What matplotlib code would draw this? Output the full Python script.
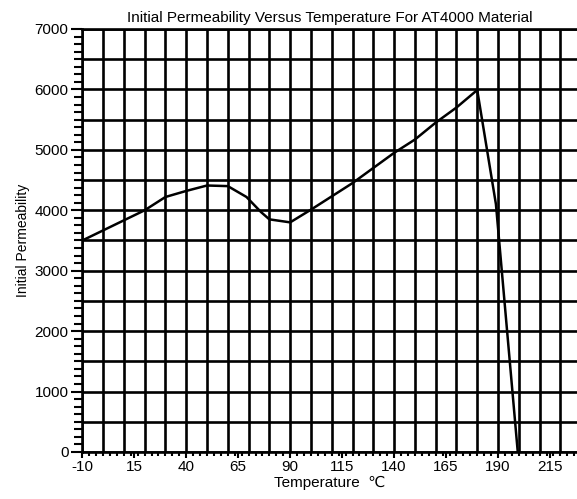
import matplotlib
matplotlib.use("Agg")
import matplotlib.pyplot as plt
from matplotlib.ticker import MultipleLocator
import numpy as np

plt.rcParams['font.family'] = ['Liberation Sans', 'DejaVu Sans']

# values
temp = [-10, 20, 30, 40, 50, 60, 69, 76, 80, 90, 100, 120, 130, 140, 150, 160, 170, 180, 189, 199.5]
perm = [3500, 4000, 4220, 4320, 4410, 4400, 4220, 3970, 3850, 3800, 4010, 4450, 4700, 4950, 5170, 5450, 5700, 5990, 4100, 0]

x_labels = [-10, 15, 40, 65, 90, 115, 140, 165, 190, 215]
y_labels = [0, 1000, 2000, 3000, 4000, 5000, 6000, 7000]

fig = plt.figure(figsize=(5.77, 4.99), dpi=100)
ax = fig.add_axes([0.1426, 0.0942, 0.8574, 0.8477])

# grid every 10 degC / 500
for gx in np.arange(-10, 230, 10):
    ax.axvline(gx, color='black', lw=1.9, zorder=1)
for gy in np.arange(0, 7001, 500):
    ax.axhline(gy, color='black', lw=1.9, zorder=1)

ax.plot(temp, perm, color='black', lw=1.8, zorder=3, solid_joinstyle='round')

ax.set_xlim(-10, 228)
ax.set_ylim(0, 7000)
ax.set_xticks(x_labels)
ax.set_xticklabels([str(v) for v in x_labels])
ax.set_yticks(y_labels)
ax.xaxis.set_minor_locator(MultipleLocator(10 / 3))
ax.yaxis.set_minor_locator(MultipleLocator(125))
ax.tick_params(which='major', direction='out', length=4, width=1.5, labelsize=11, pad=2)
ax.tick_params(which='minor', direction='out', length=3, width=1.5)
ax.tick_params(axis='y', which='major', length=8)
ax.tick_params(axis='y', which='minor', length=6)

for s in ['right']:
    ax.spines[s].set_visible(False)
for s in ['left', 'bottom', 'top']:
    ax.spines[s].set_linewidth(1.9)

ax.set_title('Initial Permeability Versus Temperature For AT4000 Material', fontsize=11, pad=5)
ax.set_xlabel('Temperature  \u2103', fontsize=11, labelpad=1)
ax.set_ylabel('Initial Permeability', fontsize=10, labelpad=3)

fig.savefig('out.png', dpi=100)
